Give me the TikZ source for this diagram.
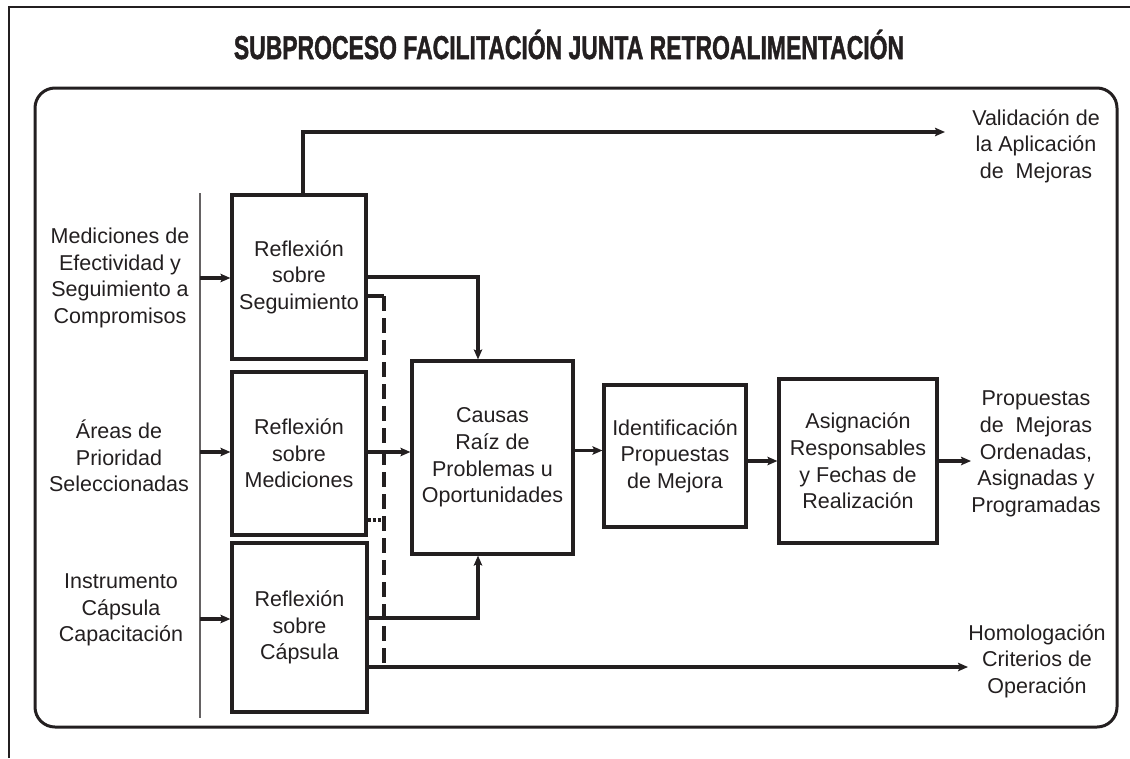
\documentclass[tikz,border=0pt]{standalone}
\usepackage{fontspec}
\setmainfont{Liberation Sans}
\newfontfamily\titlefont{Liberation Sans}[BoldFeatures={FakeBold=1.6}]
\usetikzlibrary{arrows.meta,calc}
\definecolor{ink}{HTML}{231F20}
\begin{document}
\begin{tikzpicture}[x=1pt,y=-1pt,
  every node/.style={text=ink},
  txt/.style={align=center,font=\fontsize{21.5}{26.6}\selectfont,inner sep=0pt},
  pbox/.style={draw=ink,line width=3.2pt,inner sep=0pt,align=center,
     font=\fontsize{21.5}{26.6}\selectfont},
  arr/.style={draw=ink,line width=3.2pt,-{Stealth[length=10pt,width=8.5pt,inset=2pt]}},
  conn/.style={draw=ink,line width=3.2pt}]
\useasboundingbox (0,0) rectangle (1130,758);
% frames
\draw[ink,line width=2.4pt] (9,758) -- (9,7) -- (1130,7);
\draw[ink,line width=3pt,rounded corners=20pt] (35,88) rectangle (1117,727);
\node[anchor=base,inner sep=0pt] (title) at (569,59)
  {\scalebox{0.695}[1]{\fontsize{33}{38}\selectfont\titlefont\bfseries SUBPROCESO FACILITACIÓN JUNTA RETROALIMENTACIÓN}};
% vertical input line
\draw[ink!70,line width=1.1pt] (200,193) -- (200,718);
% inputs
\node[txt] (in1) at (120,278) {Mediciones de\\Efectividad y\\Seguimiento a\\Compromisos};
\node[txt] (in2) at (119,456) {Áreas de\\Prioridad\\Seleccionadas};
\node[txt] (in3) at (121,610) {Instrumento\\Cápsula\\Capacitación};
\coordinate (v1) at (200,278);
\coordinate (v2) at (200,452);
\coordinate (v3) at (200,619);
% boxes
\node[pbox,minimum width=134pt,minimum height=164pt] (seg) at (299,277) {Reflexión\\sobre\\Seguimiento};
\node[pbox,minimum width=134pt,minimum height=163pt] (med) at (299,453.5) {Reflexión\\sobre\\Mediciones};
\node[pbox,minimum width=135pt,minimum height=169pt] (cap) at (299.5,627.5) {Reflexión\\sobre\\Cápsula};
\node[pbox,minimum width=161pt,minimum height=193pt] (ca) at (492.5,457.5) {Causas\\Raíz de\\Problemas u\\Oportunidades};
\node[pbox,minimum width=142pt,minimum height=142pt] (id) at (675,456) {Identificación\\Propuestas\\de Mejora};
\node[pbox,minimum width=158pt,minimum height=164pt] (as) at (858,461) {Asignación\\Responsables\\y Fechas de\\Realización};
% outputs
\node[txt] (val) at (1036,146) {Validación de\\la Aplicación\\de\ \ Mejoras};
\node[txt] (prop) at (1036,454) {Propuestas\\de\ \ Mejoras\\Ordenadas,\\Asignadas y\\Programadas};
\node[txt] (hom) at (1037,661) {Homologación\\Criterios de\\Operación};
\coordinate (valin) at (945,132);
\coordinate (propin) at (971,461);
\coordinate (homin) at (968,667);
\coordinate (dj) at (384,667);
% input arrows
\draw[arr] (v1) -- (v1 -| seg.west);
\draw[arr] (v2) -- (v2 -| med.west);
\draw[arr] (v3) -- (v3 -| cap.west);
% top output
\draw[arr] ([xshift=4pt]seg.north) |- (valin);
% to causas
\draw[arr] (seg.east) -| ([xshift=-14.5pt]ca.north);
\draw[arr] ([yshift=1.5pt]med.east) -- ([yshift=1.5pt]med.east -| ca.west);
\draw[arr] ([yshift=9.5pt]cap.east) -| ([xshift=-14.5pt]ca.south);
% bottom output
\draw[arr] ([yshift=-39.5pt]cap.east) -- (homin);
% dashed feedback
\draw[conn] ([yshift=-19pt]seg.east) -- ([yshift=-19pt]seg.east -| dj);
\draw[conn,dash pattern=on 15pt off 7pt] ([yshift=-19pt]seg.east -| dj) -- (dj);
\draw[conn,dash pattern=on 3pt off 2pt] ([yshift=-66.5pt]med.east) -- ([yshift=-66.5pt]med.east -| dj);
% chain
\draw[arr] ([yshift=5.5pt]id.west -| ca.east) -- ([yshift=5.5pt]id.west);
\draw[arr] (id.east |- as.west) -- (as.west);
\draw[arr] (as.east) -- (propin);
\end{tikzpicture}
\end{document}
